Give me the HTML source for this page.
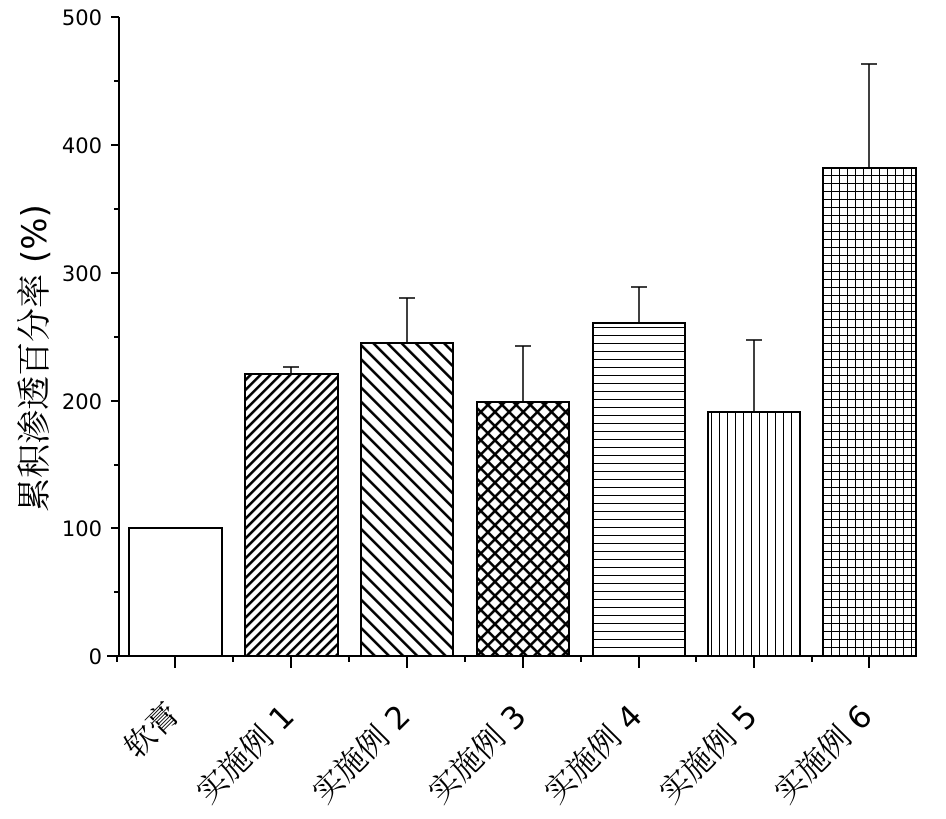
<!DOCTYPE html><html><head><style>body{margin:0;background:#fff}</style></head><body>
<svg width="946" height="814" xmlns="http://www.w3.org/2000/svg" font-family="DejaVu Sans, Liberation Sans, sans-serif">
<defs>
<pattern id="p1" width="7" height="7" patternUnits="userSpaceOnUse" patternTransform="rotate(45)"><rect width="7" height="7" fill="#fff"/><rect width="2.6" height="7" fill="#000"/></pattern>
<pattern id="p2" width="10" height="10" patternUnits="userSpaceOnUse" patternTransform="rotate(-45)"><rect width="10" height="10" fill="#fff"/><rect width="2.6" height="10" fill="#000"/></pattern>
<pattern id="p3" width="10" height="10" patternUnits="userSpaceOnUse" patternTransform="rotate(45)"><rect width="10" height="10" fill="#fff"/><rect width="2.6" height="10" fill="#000"/><rect width="10" height="2.6" fill="#000"/></pattern>
<pattern id="p4" width="8" height="8" patternUnits="userSpaceOnUse"><rect width="8" height="8" fill="#fff"/><rect y="7" width="8" height="1.2" fill="#000"/></pattern>
<pattern id="p5" width="8" height="8" patternUnits="userSpaceOnUse"><rect width="8" height="8" fill="#fff"/><rect x="7" width="1.2" height="8" fill="#000"/></pattern>
<pattern id="p6" width="8" height="8" patternUnits="userSpaceOnUse"><rect width="8" height="8" fill="#fff"/><rect x="7" width="1.4" height="8" fill="#000"/><rect y="7" width="8" height="1.4" fill="#000"/></pattern>
</defs>
<g stroke="#000" stroke-width="1.5">
<line x1="291" y1="373" x2="291" y2="367"/><line x1="283" y1="367" x2="299" y2="367"/>
<line x1="407" y1="343" x2="407" y2="298"/><line x1="399" y1="298" x2="415" y2="298"/>
<line x1="523" y1="401" x2="523" y2="346"/><line x1="515" y1="346" x2="531" y2="346"/>
<line x1="639" y1="323" x2="639" y2="287"/><line x1="631" y1="287" x2="647" y2="287"/>
<line x1="754" y1="412" x2="754" y2="340"/><line x1="746" y1="340" x2="762" y2="340"/>
<line x1="869" y1="168" x2="869" y2="64"/><line x1="861" y1="64" x2="877" y2="64"/>
</g>
<g stroke="#000" stroke-width="2">
<rect x="129" y="528" width="93" height="128" fill="#fff"/>
<rect x="245" y="374" width="93" height="282" fill="url(#p1)"/>
<rect x="361" y="343" width="92" height="313" fill="url(#p2)"/>
<rect x="477" y="402" width="92" height="254" fill="url(#p3)"/>
<rect x="593" y="323" width="92" height="333" fill="url(#p4)"/>
<rect x="708" y="412" width="92" height="244" fill="url(#p5)"/>
<rect x="823" y="168" width="93" height="488" fill="url(#p6)"/>
</g>
<g stroke="#000" stroke-width="2">
<line x1="119" y1="17" x2="119" y2="657"/>
<line x1="107" y1="656" x2="916" y2="656"/>
<line x1="111" y1="17" x2="119" y2="17"/><line x1="111" y1="145" x2="119" y2="145"/><line x1="111" y1="273" x2="119" y2="273"/><line x1="111" y1="401" x2="119" y2="401"/><line x1="111" y1="528" x2="119" y2="528"/><line x1="111" y1="656" x2="119" y2="656"/>
<line x1="114" y1="81" x2="119" y2="81"/><line x1="114" y1="209" x2="119" y2="209"/><line x1="114" y1="337" x2="119" y2="337"/><line x1="114" y1="465" x2="119" y2="465"/><line x1="114" y1="592" x2="119" y2="592"/>
<line x1="175" y1="656" x2="175" y2="668"/><line x1="291" y1="656" x2="291" y2="668"/><line x1="407" y1="656" x2="407" y2="668"/><line x1="523" y1="656" x2="523" y2="668"/><line x1="639" y1="656" x2="639" y2="668"/><line x1="754" y1="656" x2="754" y2="668"/><line x1="869" y1="656" x2="869" y2="668"/>
<line x1="233" y1="656" x2="233" y2="662"/><line x1="349" y1="656" x2="349" y2="662"/><line x1="465" y1="656" x2="465" y2="662"/><line x1="581" y1="656" x2="581" y2="662"/><line x1="696" y1="656" x2="696" y2="662"/><line x1="812" y1="656" x2="812" y2="662"/><line x1="117" y1="656" x2="117" y2="662"/>
</g>
<g font-size="21" text-anchor="end">
<text x="102" y="25">500</text><text x="102" y="153">400</text><text x="102" y="281">300</text><text x="102" y="409">200</text><text x="102" y="536">100</text><text x="102" y="664">0</text>
</g>
<text transform="translate(46,358) rotate(-90)" text-anchor="middle" font-size="34" font-family="DejaVu Sans, Noto Serif CJK SC, serif">累积渗透百分率 (%)</text>
<g font-size="31" text-anchor="end" font-family="DejaVu Sans, Noto Serif CJK SC, serif">
<text transform="translate(181,716) rotate(-45)">软膏</text>
<text transform="translate(296,718) rotate(-45)">实施例 1</text>
<text transform="translate(412,718) rotate(-45)">实施例 2</text>
<text transform="translate(528,718) rotate(-45)">实施例 3</text>
<text transform="translate(644,718) rotate(-45)">实施例 4</text>
<text transform="translate(759,718) rotate(-45)">实施例 5</text>
<text transform="translate(874,718) rotate(-45)">实施例 6</text>
</g>
</svg>
</body></html>
